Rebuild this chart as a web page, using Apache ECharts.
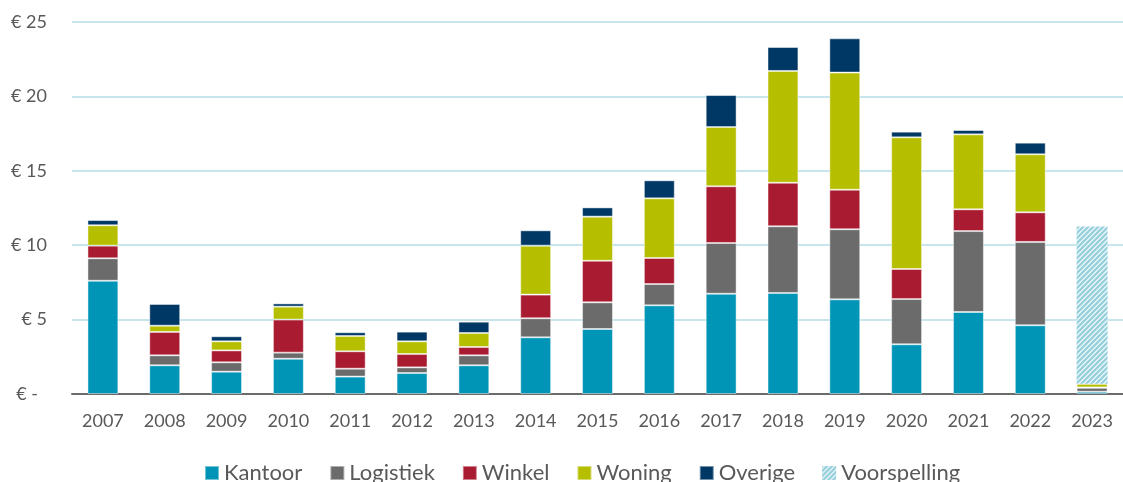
<!DOCTYPE html>
<html>
<head>
<meta charset="utf-8">
<script src="https://cdn.jsdelivr.net/npm/echarts@6/dist/echarts.min.js"></script>
<style>
  html, body { margin: 0; padding: 0; background: #fff; }
  #chart { width: 1123px; height: 482px; }
</style>
</head>
<body>
<div id="chart"></div>
<script>
// jaren en investeringsvolumes (mld euro)
var jaren = ['2007','2008','2009','2010','2011','2012','2013','2014','2015','2016','2017','2018','2019','2020','2021','2022','2023'];
var kantoor    = [7.61, 1.93, 1.50, 2.37, 1.17, 1.41, 1.93, 3.81, 4.37, 5.96, 6.74, 6.79, 6.36, 3.34, 5.51, 4.62, 0.15];
var logistiek  = [1.51, 0.67, 0.63, 0.41, 0.53, 0.38, 0.67, 1.28, 1.79, 1.43, 3.41, 4.48, 4.71, 3.04, 5.44, 5.60, 0.27];
var winkel     = [0.85, 1.57, 0.80, 2.22, 1.17, 0.90, 0.56, 1.59, 2.80, 1.75, 3.81, 2.93, 2.66, 2.02, 1.46, 1.99, 0.02];
var woning     = [1.37, 0.42, 0.61, 0.87, 1.03, 0.85, 0.94, 3.29, 2.96, 4.01, 3.98, 7.51, 7.87, 8.85, 5.04, 3.90, 0.25];
var overige    = [0.35, 1.46, 0.34, 0.22, 0.25, 0.65, 0.76, 1.03, 0.62, 1.21, 2.15, 1.61, 2.30, 0.38, 0.29, 0.78, 0];
var voorspelling = ['-','-','-','-','-','-','-','-','-','-','-','-','-','-','-','-', 10.56];

// arcering voor de voorspelling
var pat = document.createElement('canvas');
pat.width = 5; pat.height = 5;
var ctx = pat.getContext('2d');
ctx.fillStyle = '#ffffff';
ctx.fillRect(0, 0, 5, 5);
ctx.strokeStyle = '#98d1dd';
ctx.lineWidth = 2.6;
ctx.beginPath();
ctx.moveTo(-1, 6); ctx.lineTo(6, -1);
ctx.moveTo(-1, 1); ctx.lineTo(1, -1);
ctx.moveTo(4, 6); ctx.lineTo(6, 4);
ctx.stroke();

var myChart = echarts.init(document.getElementById('chart'));

var rand = 'rgba(255,255,255,0.45)';
function serie(naam, data, kleur) {
    return {
        name: naam,
        type: 'bar',
        stack: 'totaal',
        barWidth: '50%',
        data: data,
        itemStyle: { color: kleur, borderColor: rand, borderWidth: 1 }
    };
}

var option = {
    animation: false,
    textStyle: { fontFamily: 'Lato' },
    grid: { left: 72, top: 22, width: 1061, bottom: 88 },
    legend: {
        left: 204,
        top: 462,
        padding: 0,
        itemWidth: 14,
        itemHeight: 14,
        itemGap: 27,
        icon: 'rect',
        textStyle: { fontFamily: 'Lato', fontSize: 22, color: '#595959' },
        data: ['Kantoor', 'Logistiek', 'Winkel', 'Woning', 'Overige', 'Voorspelling']
    },
    xAxis: {
        type: 'category',
        data: jaren,
        axisTick: { show: false },
        axisLine: { lineStyle: { color: '#6b6b6b', width: 2 } },
        axisLabel: { color: '#595959', fontSize: 18, margin: 18 }
    },
    yAxis: {
        type: 'value',
        min: 0,
        max: 25,
        interval: 5,
        axisLine: { show: false },
        axisTick: { show: false },
        splitLine: { lineStyle: { color: '#c6e5ec', width: 2 } },
        axisLabel: {
            color: '#595959',
            fontSize: 18,
            margin: 25,
            formatter: function (v) {
                return v === 0 ? '{z|€ -}' : '€ ' + v;
            },
            rich: { z: { fontSize: 18, color: '#595959', padding: [0, 9, 0, 0] } }
        }
    },
    series: [
        serie('Kantoor', kantoor, '#0095b6'),
        serie('Logistiek', logistiek, '#6a6b6a'),
        serie('Winkel', winkel, '#a81b31'),
        serie('Woning', woning, '#b6be00'),
        serie('Overige', overige, '#003865'),
        {
            name: 'Voorspelling',
            type: 'bar',
            stack: 'totaal',
            barWidth: '50%',
            data: voorspelling,
            itemStyle: { color: { image: pat, repeat: 'repeat' } }
        }
    ]
};

myChart.setOption(option);
</script>
</body>
</html>
